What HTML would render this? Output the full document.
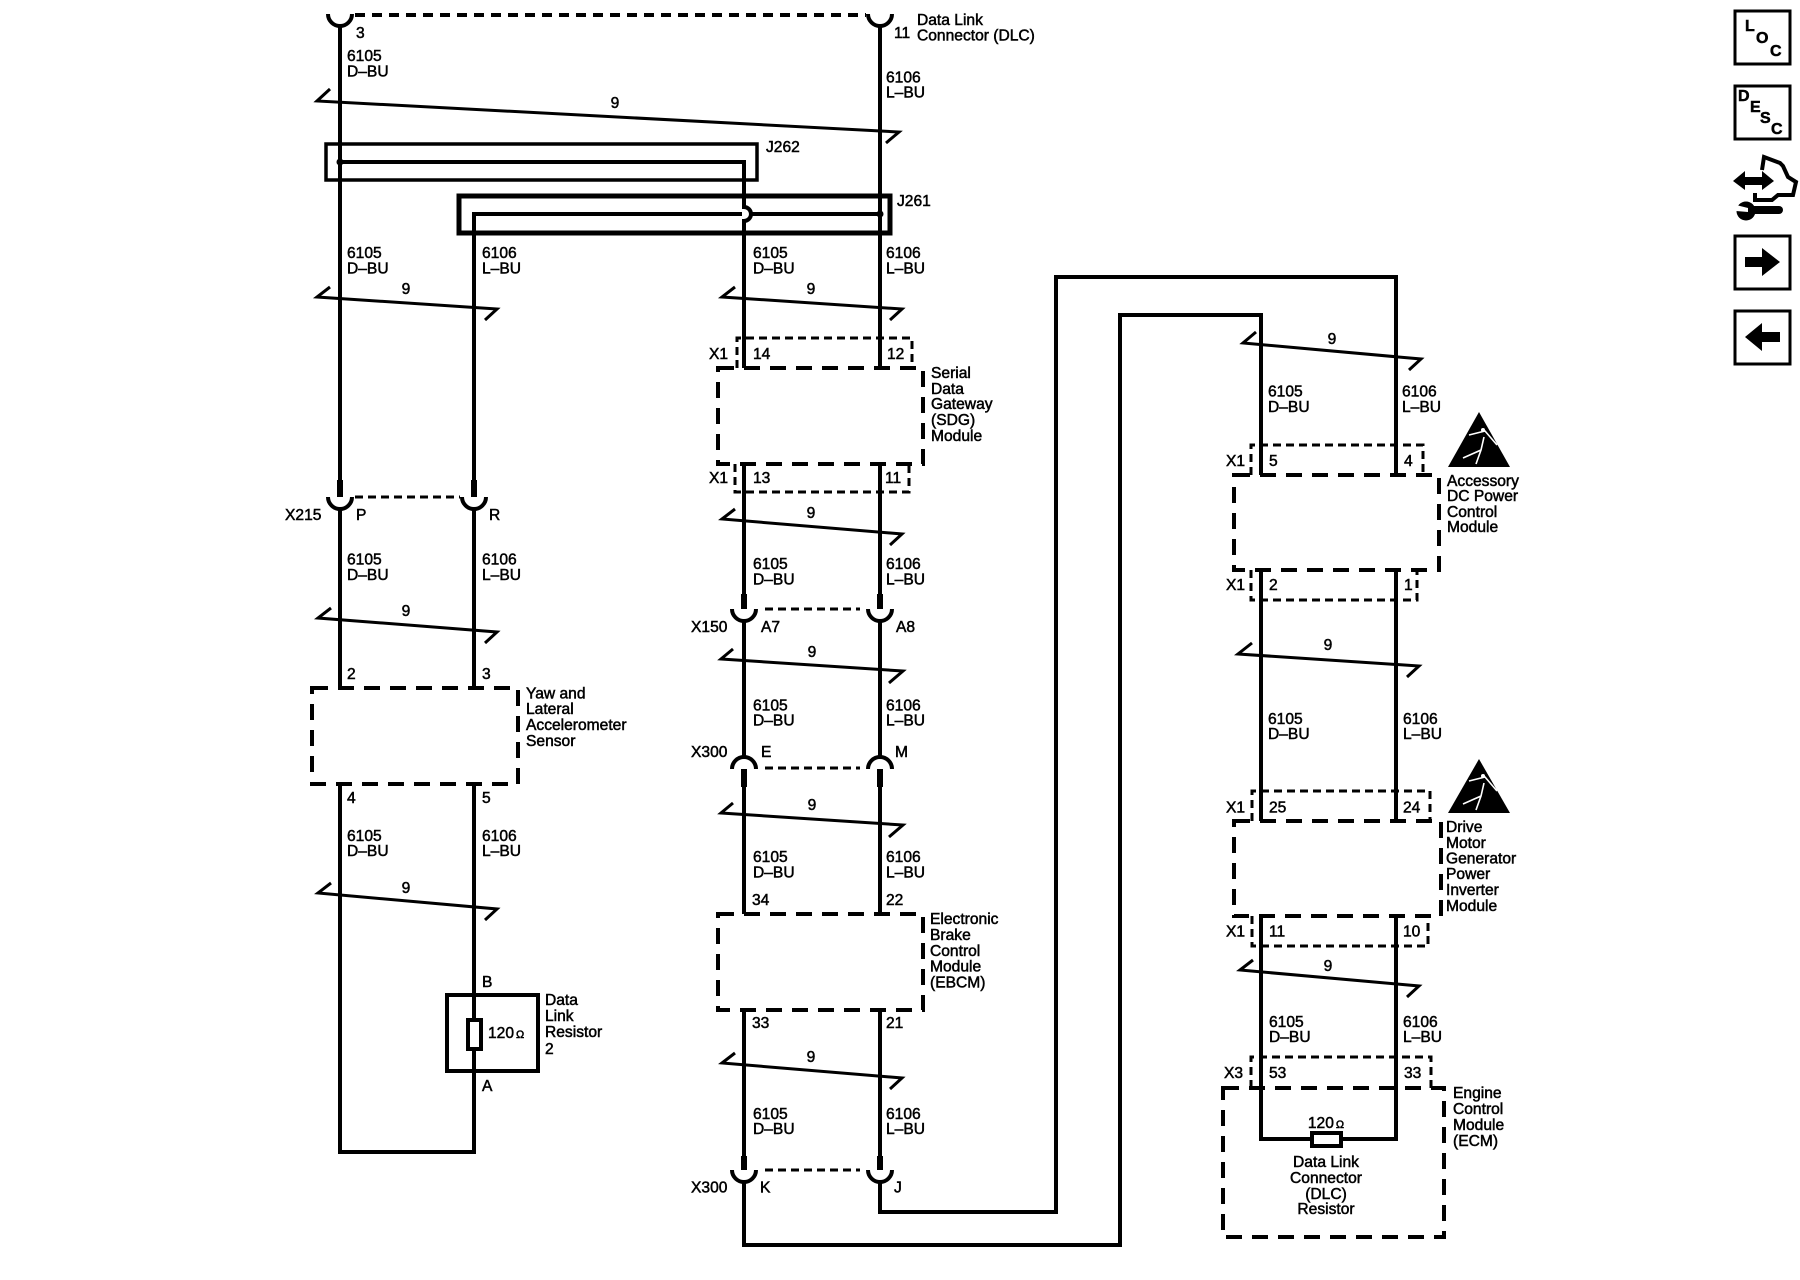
<!DOCTYPE html>
<html><head><meta charset="utf-8"><style>
html,body{margin:0;padding:0;background:#fff}
svg{display:block}
text{font-family:"Liberation Sans",sans-serif;font-size:15.6px;fill:#000;stroke:#000;stroke-width:.5}
.m{text-anchor:middle}
.b{font-weight:bold;font-size:16px}
.w{fill:none;stroke:#000;stroke-width:4}
.t{fill:none;stroke:#000;stroke-width:3}
.d{fill:none;stroke:#000;stroke-width:4;stroke-dasharray:16 10}
.c{fill:none;stroke:#000;stroke-width:3;stroke-dasharray:8 5}
.p{fill:none;stroke:#000;stroke-width:6}
</style></head><body>
<svg width="1800" height="1280" viewBox="0 0 1800 1280" xmlns="http://www.w3.org/2000/svg">
<rect width="1800" height="1280" fill="#fff"/>

<!-- Top connector -->
<path class="w" d="M328,14 A12,12 0 0 0 352,14 M868,14 A12,12 0 0 0 892,14"/>
<path class="w" style="stroke-dasharray:10 7" d="M355,15 H866"/>
<path class="w" d="M340,26 V496 M880,26 V368"/>

<!-- Shields -->
<path class="t" d="M330,89 L317,101 L899,132 L886,143"/>
<path class="t" d="M330,287 L317,297 L497,309 L485,320"/>
<path class="t" d="M735,287 L722,297 L902,309 L890,320"/>
<path class="t" d="M1256,332 L1243,343 L1421,359 L1409,370"/>
<path class="t" d="M331,608 L318,618 L497,632 L485,643"/>
<path class="t" d="M331,883 L318,893 L497,909 L485,920"/>
<path class="t" d="M735,509 L722,519 L902,534 L890,545"/>
<path class="t" d="M733,649 L721,659 L903,671 L889,683"/>
<path class="t" d="M733,803 L721,813 L903,825 L889,837"/>
<path class="t" d="M735,1053 L722,1063 L902,1078 L890,1089"/>
<path class="t" d="M1252,643 L1238,654 L1419,666 L1407,677"/>
<path class="t" d="M1253,960 L1240,970 L1419,986 L1407,997"/>

<!-- Splices -->
<rect x="326" y="144" width="431" height="36" fill="none" stroke="#000" stroke-width="3.5"/>
<rect x="459" y="196" width="431" height="37" fill="none" stroke="#000" stroke-width="5"/>
<path class="w" d="M340,162 H744 V207 A7,7 0 0 1 744,221 V368"/>
<path class="w" d="M474,496 V214 H742 M751,214 H880"/>
<circle cx="340" cy="162" r="3.5"/><circle cx="880" cy="214" r="3.5"/>

<!-- Left column -->
<path class="p" d="M340,480 V497 M474,480 V497"/>
<path class="w" d="M328,497 A12,12 0 0 0 352,497 M462,497 A12,12 0 0 0 486,497"/>
<path class="c" d="M355,497 H460"/>
<path class="w" d="M340,509 V688 M474,509 V688"/>
<path class="d" d="M312,688 H518 V784 H312 Z"/>
<path class="w" d="M340,784 V1152 H474 V784"/>
<rect x="447" y="995" width="91" height="76" fill="none" stroke="#000" stroke-width="4"/>
<rect x="468" y="1020" width="13" height="29" fill="#fff" stroke="#000" stroke-width="4"/>

<!-- Middle column -->
<path class="c" d="M737,368 V338 H912 V368"/>
<path class="d" d="M718,368 H923 V464 H718 Z"/>
<path class="c" d="M735,464 V492 H909 V464"/>
<path class="w" d="M744,464 V596 M880,464 V596"/>
<path class="p" d="M744,594 V609 M880,594 V609"/>
<path class="w" d="M732,609 A12,12 0 0 0 756,609 M868,609 A12,12 0 0 0 892,609"/>
<path class="c" d="M765,609 H860"/>
<path class="w" d="M744,621 V757 M880,621 V757"/>
<path class="w" d="M732,769 A12,12 0 0 1 756,769 M868,769 A12,12 0 0 1 892,769"/>
<path class="c" d="M765,768 H860"/>
<path class="p" d="M744,769 V787 M880,769 V787"/>
<path class="w" d="M744,785 V914 M880,785 V914"/>
<path class="d" d="M718,914 H923 V1010 H718 Z"/>
<path class="w" d="M744,1010 V1158 M880,1010 V1158"/>
<path class="p" d="M744,1156 V1170 M880,1156 V1170"/>
<path class="w" d="M732,1170 A12,12 0 0 0 756,1170 M868,1170 A12,12 0 0 0 892,1170"/>
<path class="c" d="M765,1170 H860"/>
<path class="w" d="M744,1182 V1245 H1120 V315 H1261 V475"/>
<path class="w" d="M880,1182 V1212 H1056 V277 H1396 V475"/>

<!-- Right column -->
<path class="c" d="M1251,475 V445 H1423 V475"/>
<path class="d" d="M1234,475 H1439 V570 H1234 Z"/>
<path class="c" d="M1251,570 V600 H1417 V570"/>
<path class="w" d="M1261,570 V821 M1396,570 V821"/>
<path class="c" d="M1252,821 V791 H1430 V821"/>
<path class="d" d="M1234,821 H1441 V916 H1234 Z"/>
<path class="c" d="M1252,916 V946 H1428 V916"/>
<path class="w" d="M1261,916 V1139 H1396 V916"/>
<path class="c" d="M1251,1088 V1057 H1431 V1088"/>
<path class="d" d="M1223,1088 H1444 V1237 H1223 Z"/>
<rect x="1312" y="1133" width="29" height="13" fill="#fff" stroke="#000" stroke-width="4"/>

<!-- Warning triangles -->
<polygon points="1479,412 1510,467 1448,467"/>
<path fill="none" stroke="#fff" stroke-width="1.6" d="M1469,435 L1485,431 L1497,445 M1484,437 L1481,450 L1463,458 M1481,450 L1476,464"/>
<circle cx="1483" cy="430" r="2" fill="#fff"/>
<polygon points="1479,759 1510,813 1448,813"/>
<path fill="none" stroke="#fff" stroke-width="1.6" d="M1469,781 L1485,777 L1497,791 M1484,783 L1481,796 L1463,804 M1481,796 L1476,810"/>
<circle cx="1483" cy="776" r="2" fill="#fff"/>

<!-- Labels: wire pairs -->
<text x="347" y="61">6105</text><text x="347" y="76.5">D–BU</text>
<text x="886" y="82.5">6106</text><text x="886" y="97.5">L–BU</text>
<text x="347" y="258">6105</text><text x="347" y="273.5">D–BU</text>
<text x="482" y="258">6106</text><text x="482" y="273.5">L–BU</text>
<text x="753" y="258">6105</text><text x="753" y="273.5">D–BU</text>
<text x="886" y="258">6106</text><text x="886" y="273.5">L–BU</text>
<text x="1268" y="396.5">6105</text><text x="1268" y="412">D–BU</text>
<text x="1402" y="396.5">6106</text><text x="1402" y="412">L–BU</text>
<text x="347" y="564.5">6105</text><text x="347" y="580">D–BU</text>
<text x="482" y="564.5">6106</text><text x="482" y="580">L–BU</text>
<text x="753" y="569">6105</text><text x="753" y="584.5">D–BU</text>
<text x="886" y="569">6106</text><text x="886" y="584.5">L–BU</text>
<text x="347" y="841">6105</text><text x="347" y="856">D–BU</text>
<text x="482" y="841">6106</text><text x="482" y="856">L–BU</text>
<text x="753" y="710.5">6105</text><text x="753" y="725.5">D–BU</text>
<text x="886" y="710.5">6106</text><text x="886" y="725.5">L–BU</text>
<text x="753" y="862">6105</text><text x="753" y="877.5">D–BU</text>
<text x="886" y="862">6106</text><text x="886" y="877.5">L–BU</text>
<text x="753" y="1119">6105</text><text x="753" y="1134">D–BU</text>
<text x="886" y="1119">6106</text><text x="886" y="1134">L–BU</text>
<text x="1268" y="724">6105</text><text x="1268" y="739">D–BU</text>
<text x="1403" y="724">6106</text><text x="1403" y="739">L–BU</text>
<text x="1269" y="1027">6105</text><text x="1269" y="1042">D–BU</text>
<text x="1403" y="1027">6106</text><text x="1403" y="1042">L–BU</text>

<!-- Shield 9s -->
<text class="m" x="615" y="108">9</text>
<text class="m" x="406" y="294">9</text>
<text class="m" x="811" y="294">9</text>
<text class="m" x="1332" y="344">9</text>
<text class="m" x="406" y="616">9</text>
<text class="m" x="406" y="893">9</text>
<text class="m" x="811" y="518">9</text>
<text class="m" x="812" y="657">9</text>
<text class="m" x="812" y="810">9</text>
<text class="m" x="811" y="1062">9</text>
<text class="m" x="1328" y="650">9</text>
<text class="m" x="1328" y="971">9</text>

<!-- Top labels -->
<text x="356" y="38">3</text><text x="894" y="38">11</text>
<text x="917" y="25">Data Link</text><text x="917" y="40.5">Connector (DLC)</text>
<text x="766" y="152">J262</text><text x="897" y="206">J261</text>

<!-- SDG -->
<text x="709" y="359">X1</text><text x="753" y="359">14</text><text x="887" y="359">12</text>
<text x="931" y="378">Serial</text><text x="931" y="394">Data</text><text x="931" y="409">Gateway</text><text x="931" y="425">(SDG)</text><text x="931" y="441">Module</text>
<text x="709" y="483">X1</text><text x="753" y="483">13</text><text x="885" y="483">11</text>

<!-- X215, Yaw -->
<text x="285" y="520">X215</text><text x="356" y="520">P</text><text x="489" y="520">R</text>
<text x="347" y="679">2</text><text x="482" y="679">3</text>
<text x="526" y="698.5">Yaw and</text><text x="526" y="714">Lateral</text><text x="526" y="730">Accelerometer</text><text x="526" y="746">Sensor</text>
<text x="347" y="803">4</text><text x="482" y="803">5</text>
<text x="482" y="987">B</text><text x="482" y="1091">A</text>
<text x="488" y="1038">120<tspan font-size="11" dx="2">Ω</tspan></text>
<text x="545" y="1005">Data</text><text x="545" y="1021">Link</text><text x="545" y="1037">Resistor</text><text x="545" y="1054">2</text>

<!-- X150, X300, EBCM -->
<text x="691" y="632">X150</text><text x="761" y="632">A7</text><text x="896" y="632">A8</text>
<text x="691" y="757">X300</text><text x="761" y="757">E</text><text x="895" y="757">M</text>
<text x="752" y="905">34</text><text x="886" y="905">22</text>
<text x="930" y="924">Electronic</text><text x="930" y="940">Brake</text><text x="930" y="956">Control</text><text x="930" y="971.5">Module</text><text x="930" y="987.5">(EBCM)</text>
<text x="752" y="1028">33</text><text x="886" y="1028">21</text>
<text x="691" y="1192.5">X300</text><text x="760" y="1192.5">K</text><text x="894" y="1192.5">J</text>

<!-- Accessory -->
<text x="1226" y="466">X1</text><text x="1269" y="466">5</text><text x="1404" y="466">4</text>
<text x="1447" y="486">Accessory</text><text x="1447" y="501">DC Power</text><text x="1447" y="517">Control</text><text x="1447" y="532">Module</text>
<text x="1226" y="590">X1</text><text x="1269" y="590">2</text><text x="1404" y="590">1</text>

<!-- Drive -->
<text x="1226" y="812.5">X1</text><text x="1269" y="812.5">25</text><text x="1403" y="812.5">24</text>
<text x="1446" y="832">Drive</text><text x="1446" y="848">Motor</text><text x="1446" y="863.5">Generator</text><text x="1446" y="879">Power</text><text x="1446" y="895">Inverter</text><text x="1446" y="911">Module</text>
<text x="1226" y="936.5">X1</text><text x="1269" y="936.5">11</text><text x="1403" y="936.5">10</text>

<!-- ECM -->
<text x="1224" y="1078">X3</text><text x="1269" y="1078">53</text><text x="1404" y="1078">33</text>
<text x="1453" y="1098">Engine</text><text x="1453" y="1114">Control</text><text x="1453" y="1130">Module</text><text x="1453" y="1146">(ECM)</text>
<text class="m" x="1326" y="1128">120<tspan font-size="11" dx="2">Ω</tspan></text>
<text class="m" x="1326" y="1167">Data Link</text><text class="m" x="1326" y="1183">Connector</text><text class="m" x="1326" y="1199">(DLC)</text><text class="m" x="1326" y="1214">Resistor</text>

<!-- Right side icons -->
<rect x="1735" y="11" width="55" height="53" fill="none" stroke="#000" stroke-width="3"/>
<text class="b" x="1745" y="31">L</text><text class="b" x="1756" y="43">O</text><text class="b" x="1770" y="56">C</text>
<rect x="1735" y="86" width="55" height="53" fill="none" stroke="#000" stroke-width="3"/>
<text class="b" x="1738" y="101">D</text><text class="b" x="1750" y="112">E</text><text class="b" x="1760" y="123">S</text><text class="b" x="1771" y="134">C</text>

<polygon points="1733,181 1745,171 1745,177 1762,177 1762,171 1774,181 1762,190 1762,185 1745,185 1745,190"/>
<path fill="none" stroke="#000" stroke-width="4" d="M1762,170 L1764,157 L1780,163 L1783,166 L1788,177 L1796,182 L1793,195 L1778,195 L1772,200 L1755,200 L1755,193"/>
<rect x="1750" y="206" width="33" height="8" rx="4"/>
<circle cx="1746" cy="211" r="9.5"/>
<polygon points="1736,205 1748,208 1748,212 1736,211" fill="#fff"/>

<rect x="1735" y="236" width="55" height="53" fill="none" stroke="#000" stroke-width="3"/>
<polygon points="1745,257 1762,257 1762,248 1780,262 1762,276 1762,267 1745,267"/>
<rect x="1735" y="311" width="55" height="53" fill="none" stroke="#000" stroke-width="3"/>
<polygon points="1780,332 1762,332 1762,323 1745,337 1762,351 1762,342 1780,342"/>
</svg>
</body></html>
